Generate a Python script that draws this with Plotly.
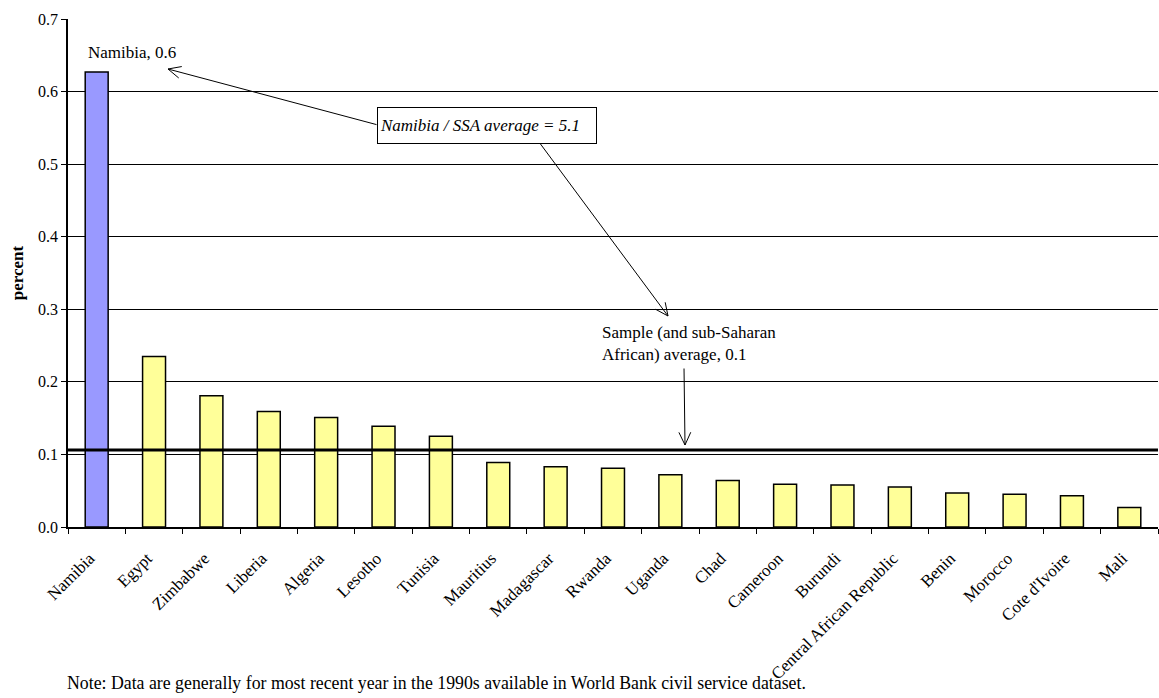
import math
import plotly.graph_objects as go

# Civil service wage bill share by country (percent)
countries = ["Namibia", "Egypt", "Zimbabwe", "Liberia", "Algeria", "Lesotho", "Tunisia",
             "Mauritius", "Madagascar", "Rwanda", "Uganda", "Chad", "Cameroon", "Burundi",
             "Central African Republic", "Benin", "Morocco", "Cote d'Ivoire", "Mali"]
values = [0.627, 0.235, 0.181, 0.159, 0.151, 0.139, 0.125, 0.089, 0.083, 0.081,
          0.072, 0.064, 0.059, 0.058, 0.055, 0.047, 0.045, 0.043, 0.027]
sample_average = 0.106
highlight = "Namibia"

y_ticks = [0.0, 0.1, 0.2, 0.3, 0.4, 0.5, 0.6, 0.7]

bar_colors = ["#9999FF" if c == highlight else "#FFFF99" for c in countries]

# plot area in pixels (used for placing annotation arrows and notes)
L, R, T, B = 68, 1158, 19, 527
W, H = 1159, 698


def px(x):
    return (x - L) / (R - L)


def py(y):
    return (B - y) / (B - T)


FONT = "Liberation Serif, Times New Roman, serif"

fig = go.Figure()
fig.add_trace(go.Bar(
    x=countries, y=values,
    marker=dict(color=bar_colors, line=dict(color="black", width=1.5)),
    width=0.4, showlegend=False, hoverinfo="x+y",
))

fig.add_shape(type="line", xref="paper", yref="y", x0=0, x1=1,
              y0=sample_average, y1=sample_average,
              line=dict(color="black", width=3), layer="above")

annotations = []
shapes = []


def arrow(head, tail, size=14, spread=25):
    hx, hy = head
    tx, ty = tail
    annotations.append(dict(
        x=px(hx), y=py(hy), xref="paper", yref="paper",
        ax=tx - hx, ay=ty - hy, axref="pixel", ayref="pixel",
        showarrow=True, arrowhead=0, arrowwidth=1, arrowcolor="black", text="",
    ))
    ang = math.atan2(ty - hy, tx - hx)
    for s in (-1, 1):
        a = ang + s * math.radians(spread)
        ex, ey = hx + size * math.cos(a), hy + size * math.sin(a)
        shapes.append(dict(type="line", xref="paper", yref="paper",
                           x0=px(hx), y0=py(hy), x1=px(ex), y1=py(ey),
                           line=dict(color="black", width=1)))


arrow((168, 69), (378, 125))
arrow((668, 316), (539, 142))
arrow((685, 445), (684, 367))

annotations += [
    dict(x=px(86), y=py(52), xref="paper", yref="paper", xanchor="left", yanchor="middle",
         text="Namibia, 0.6", showarrow=False, font=dict(size=17, color="black", family=FONT)),
    dict(x=px(377), y=py(107), xref="paper", yref="paper", xanchor="left", yanchor="top",
         text="<i>Namibia / SSA average = 5.1</i>", showarrow=False, align="left",
         width=214, height=31, borderpad=2, bordercolor="black", borderwidth=1,
         bgcolor="white", font=dict(size=17, color="black", family=FONT)),
    dict(x=px(600), y=py(343), xref="paper", yref="paper", xanchor="left", yanchor="middle",
         text="Sample (and sub-Saharan<br>African) average, 0.1", showarrow=False, align="left",
         font=dict(size=17, color="black", family=FONT)),
    dict(x=px(65), y=py(683), xref="paper", yref="paper", xanchor="left", yanchor="middle",
         text="Note: Data are generally for most recent year in the 1990s available in World Bank civil service dataset.",
         showarrow=False, font=dict(size=17.8, color="black", family=FONT)),
]

fig.update_layout(
    width=W, height=H,
    margin=dict(l=L, r=W - R, t=T, b=H - B),
    paper_bgcolor="white", plot_bgcolor="white",
    font=dict(family=FONT, size=16, color="black"),
    annotations=annotations,
    shapes=list(fig.layout.shapes) + shapes,
)

fig.update_xaxes(
    type="category", range=[-0.5, len(countries) - 0.5],
    tickangle=-45, tickfont=dict(size=17), tickson="boundaries",
    ticklabelstandoff=13, ticklabelshift=-7,
    ticks="outside", ticklen=5, tickcolor="black",
    showline=True, linecolor="black", linewidth=1.5, mirror=False,
    showgrid=False,
)
fig.update_yaxes(
    range=[0, 0.7], tickvals=y_ticks, ticktext=[f"{v:.1f}" for v in y_ticks],
    tickfont=dict(size=16), ticks="outside", ticklen=5, tickcolor="black",
    showline=True, linecolor="black", linewidth=1.5,
    showgrid=True, gridcolor="black", gridwidth=1, zeroline=False,
    title=dict(text="<b>percent</b>", font=dict(size=17), standoff=10),
)

fig.write_html("out.html")
